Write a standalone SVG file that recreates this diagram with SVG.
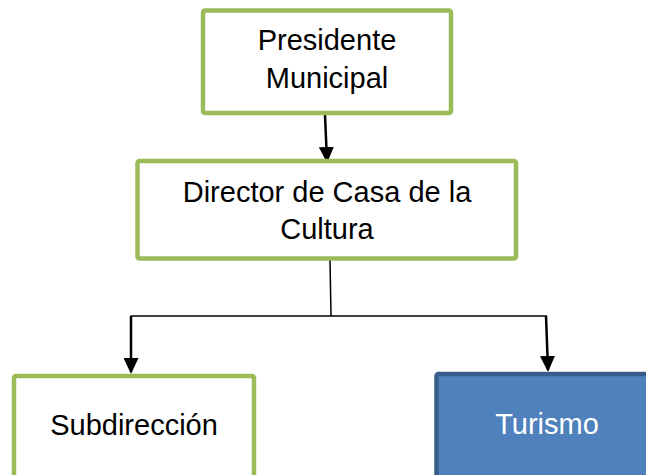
<svg xmlns="http://www.w3.org/2000/svg" width="646" height="475" viewBox="0 0 646 475">
  <style>
    .green { fill: #FFFFFF; stroke: #9BBB59; stroke-width: 4.5; }
    .blue { fill: #4F81BD; stroke: #385D8A; stroke-width: 4.5; }
    .txt { font-family: "Liberation Sans", Arial, sans-serif; font-size: 29px; text-anchor: middle; fill: #000000; }
    .wtxt { fill: #FFFFFF; }
    .thin { fill: none; stroke: #000000; stroke-width: 1.5; }
    .arrow { fill: none; stroke: #000000; stroke-width: 2.5; }
  </style>
  <defs>
    <marker id="ah" markerUnits="userSpaceOnUse" viewBox="0 0 16 15" refX="14" refY="7.5" markerWidth="16" markerHeight="15" orient="auto">
      <path d="M0,0 L16,7.5 L0,15 Z" fill="#000000"/>
    </marker>
  </defs>
  <rect width="646" height="475" fill="#FFFFFF"/>

  <g id="connectors">
    <line class="arrow" x1="325" y1="115" x2="327" y2="161" marker-end="url(#ah)"/>
    <line class="thin" x1="330" y1="260" x2="331" y2="316"/>
    <line class="thin" x1="130.5" y1="316" x2="547" y2="316"/>
    <line class="arrow" x1="131" y1="316" x2="131" y2="372" marker-end="url(#ah)"/>
    <line class="arrow" x1="546" y1="316" x2="548" y2="370" marker-end="url(#ah)"/>
  </g>

  <g id="presidente">
    <rect class="green" x="203" y="10.5" width="248" height="102.5" rx="2"/>
    <text class="txt" x="327" y="50">Presidente</text>
    <text class="txt" x="327" y="88">Municipal</text>
  </g>

  <g id="director">
    <rect class="green" x="137.5" y="161" width="378.5" height="97.5" rx="2"/>
    <text class="txt" x="327" y="202">Director de Casa de la</text>
    <text class="txt" x="327" y="239">Cultura</text>
  </g>

  <g id="subdireccion">
    <rect class="green" x="14" y="376" width="240" height="110" rx="2"/>
    <text class="txt" x="134" y="435">Subdirección</text>
  </g>

  <g id="turismo">
    <rect class="blue" x="436.5" y="374" width="221" height="112" rx="2"/>
    <text class="txt wtxt" x="547" y="434">Turismo</text>
  </g>
</svg>
